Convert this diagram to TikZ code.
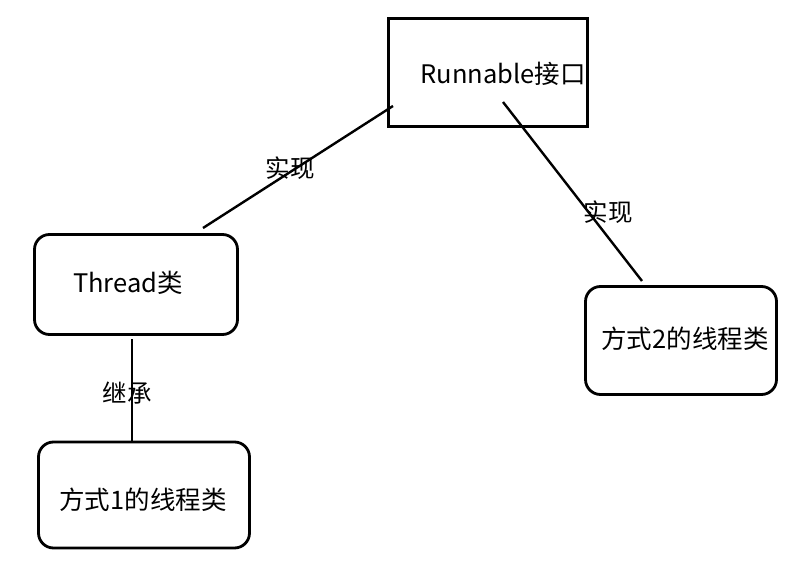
\documentclass[tikz,border=0pt]{standalone}
\usepackage{fontspec}
\setmainfont{Noto Sans CJK SC}
\begin{document}
\begin{tikzpicture}[x=1bp,y=-1bp,
  boxtext/.style={font=\fontsize{25.5bp}{30bp}\selectfont},
  edgetext/.style={font=\fontsize{24.5bp}{28bp}\selectfont, inner sep=0pt},
  sqbox/.style={draw=black, line width=2.8bp, inner sep=0pt},
  rbox/.style={draw=black, line width=2.8bp, rounded corners=15bp, inner sep=0pt},
  conn/.style={draw=black, line width=2.4bp}]
\fill[white] (0,0) rectangle (804,567);
\useasboundingbox (0,0) rectangle (804,567);
% boxes
\node[sqbox, minimum width=199bp, minimum height=108bp,
  label={[boxtext, xshift=15bp, yshift=-1bp]center:Runnable接口}] (run) at (488,72.5) {};
\node[rbox, minimum width=203bp, minimum height=100bp,
  label={[boxtext, xshift=-8bp, yshift=2bp]center:Thread类}] (thr) at (136,284.5) {};
\node[rbox, minimum width=211bp, minimum height=106bp,
  label={[boxtext, xshift=-1bp, yshift=-5bp]center:方式1的线程类}] (m1) at (144,495) {};
\node[rbox, minimum width=191bp, minimum height=108bp,
  label={[boxtext, xshift=4bp, yshift=2bp]center:方式2的线程类}] (m2) at (681,340.5) {};
% connector ends
\coordinate (a1) at (393,106);
\coordinate (a2) at (203,228);
\coordinate (b1) at (503,102);
\coordinate (b2) at (642,281);
\coordinate (c1) at (132,339);
\coordinate (c2) at (132,442);
\draw[conn] (a1) -- (a2);
\draw[conn] (b1) -- (b2);
\draw[conn] (c1) -- (c2);
% labels
\node[edgetext] (l1) at (290,168) {实现};
\node[edgetext] (l2) at (608,212) {实现};
\node[edgetext] (l3) at (127,393) {继承};
\end{tikzpicture}
\end{document}
